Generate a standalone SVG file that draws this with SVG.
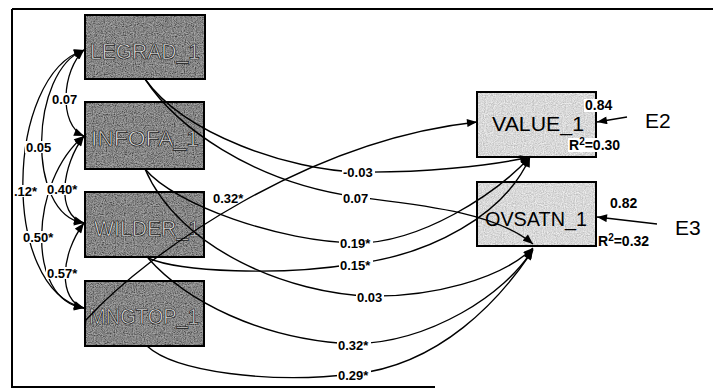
<svg xmlns="http://www.w3.org/2000/svg" width="713" height="389" viewBox="0 0 713 389">
<style>
.dk{fill:#555}
.lt{fill:#e6e6e6}
.bx{fill:none;stroke:#000;stroke-width:2}
.dt{font-family:"Liberation Sans",Arial,sans-serif;font-size:22px;fill:#e4e4e4;stroke:#111;stroke-width:0.7;text-anchor:middle}
.ltx{font-family:"Liberation Sans",Arial,sans-serif;font-size:21px;fill:#000;text-anchor:middle}
.c{fill:none;stroke:#000;stroke-width:1.4}
.cv{fill:none;stroke:#000;stroke-width:1.3}
.lb{font-family:"Liberation Sans",Arial,sans-serif;font-size:13px;font-weight:bold;fill:#000}
.rl{font-family:"Liberation Sans",Arial,sans-serif;font-size:14px;font-weight:bold;fill:#000}
.ev{font-family:"Liberation Sans",Arial,sans-serif;font-size:21px;fill:#000}
.bg{fill:#fff}
</style>
<defs>
<marker id="ah" viewBox="0 0 10 8" refX="10" refY="4" markerWidth="11" markerHeight="8" markerUnits="userSpaceOnUse" orient="auto-start-reverse"><path d="M0,0 L10,4 L0,8 z" fill="#000"/></marker>
<filter id="nz" x="0" y="0" width="100%" height="100%">
<feTurbulence type="fractalNoise" baseFrequency="0.9" numOctaves="2" seed="3" result="t"/>
<feColorMatrix in="t" type="saturate" values="0" result="g"/>
<feComponentTransfer in="g" result="g2"><feFuncR type="linear" slope="2.2" intercept="-0.6"/><feFuncG type="linear" slope="2.2" intercept="-0.6"/><feFuncB type="linear" slope="2.2" intercept="-0.6"/><feFuncA type="linear" slope="0" intercept="0.35"/></feComponentTransfer>
<feComposite in="g2" in2="SourceGraphic" operator="in" result="n"/>
<feMerge><feMergeNode in="SourceGraphic"/><feMergeNode in="n"/></feMerge>
</filter>
</defs>
<rect width="713" height="389" fill="#fff"/>
<g id="frame" stroke="#000" stroke-width="2" fill="none">
<path d="M12,9 H713 M12,9 V387 H435"/>
</g>
<g id="LEGRAD_1"><rect class="dk" filter="url(#nz)" x="85" y="15" width="120" height="64"/><rect class="bx" x="85" y="15" width="120" height="64"/><text class="dt" x="145" y="59" textLength="110" lengthAdjust="spacingAndGlyphs">LEGRAD_1</text></g>
<g id="INFOFA_1"><rect class="dk" filter="url(#nz)" x="85" y="102" width="119" height="67"/><rect class="bx" x="85" y="102" width="119" height="67"/><text class="dt" x="145" y="146" textLength="108" lengthAdjust="spacingAndGlyphs">INFOFA_1</text></g>
<g id="WILDER_1"><rect class="dk" filter="url(#nz)" x="85" y="192" width="119" height="65"/><rect class="bx" x="85" y="192" width="119" height="65"/><text class="dt" x="147" y="236" textLength="106" lengthAdjust="spacingAndGlyphs">WILDER_1</text></g>
<g id="MNGTOP_1"><rect class="dk" filter="url(#nz)" x="85" y="281" width="119" height="65"/><rect class="bx" x="85" y="281" width="119" height="65"/><text class="dt" x="144" y="324" textLength="110" lengthAdjust="spacingAndGlyphs">MNGTOP_1</text></g>
<g id="VALUE_1"><rect class="lt" filter="url(#nz)" x="477" y="92" width="119" height="65"/><rect class="bx" x="477" y="92" width="119" height="65"/><text class="ltx" x="538" y="131" textLength="92" lengthAdjust="spacingAndGlyphs">VALUE_1</text></g>
<g id="OVSATN_1"><rect class="lt" filter="url(#nz)" x="477" y="182" width="119" height="64"/><rect class="bx" x="477" y="182" width="119" height="64"/><text class="ltx" x="536" y="226" textLength="102" lengthAdjust="spacingAndGlyphs">OVSATN_1</text></g>
<g id="connectors">
<path class="c" marker-end="url(#ah)" d="M145,79 C185,135 290,170 358,172 C420,173 490,166 530,157"/>
<path class="c" marker-end="url(#ah)" d="M145,79 C175,125 250,182 357,197 C420,205 495,212 533,244"/>
<path class="c" marker-end="url(#ah)" d="M145,169 C175,205 280,242 357,243 C420,243 495,195 530,157"/>
<path class="c" marker-end="url(#ah)" d="M145,169 C180,250 290,294 371,296 C430,297 500,280 533,248"/>
<path class="c" marker-end="url(#ah)" d="M148,258 C180,272 280,276 354,264 C430,255 505,215 530,157"/>
<path class="c" marker-end="url(#ah)" d="M148,258 C185,300 260,340 354,344 C430,342 505,295 533,249"/>
<path class="c" marker-end="url(#ah)" d="M147,346 C175,372 270,384 354,374 C440,365 500,300 533,250"/>
<path class="c" marker-end="url(#ah)" d="M86,320 C150,250 310,140 477,122"/>
<path class="c" marker-end="url(#ah)" d="M627,117 L597,122"/>
<path class="c" marker-end="url(#ah)" d="M657,224 L597,217"/>
<path class="cv" marker-start="url(#ah)" marker-end="url(#ah)" d="M84,50 C62,70 58,125 84,136"/>
<path class="cv" marker-start="url(#ah)" marker-end="url(#ah)" d="M84,50 C30,70 25,215 84,223"/>
<path class="cv" marker-start="url(#ah)" marker-end="url(#ah)" d="M84,50 C5,75 0,290 84,308"/>
<path class="cv" marker-start="url(#ah)" marker-end="url(#ah)" d="M84,136 C62,165 55,215 84,223"/>
<path class="cv" marker-start="url(#ah)" marker-end="url(#ah)" d="M84,136 C30,180 25,300 84,308"/>
<path class="cv" marker-start="url(#ah)" marker-end="url(#ah)" d="M84,223 C60,255 58,300 84,308"/>
<rect class="bg" x="342" y="166" width="33" height="12"/><text class="lb" x="343" y="177">-0.03</text>
<rect class="bg" x="342" y="192" width="28" height="12"/><text class="lb" x="343" y="203">0.07</text>
<rect class="bg" x="339" y="237" width="34" height="12"/><text class="lb" x="340" y="248">0.19*</text>
<rect class="bg" x="339" y="259" width="34" height="12"/><text class="lb" x="340" y="270">0.15*</text>
<rect class="bg" x="356" y="291" width="28" height="12"/><text class="lb" x="357" y="302">0.03</text>
<rect class="bg" x="337" y="339" width="34" height="12"/><text class="lb" x="338" y="350">0.32*</text>
<rect class="bg" x="337" y="369" width="34" height="12"/><text class="lb" x="338" y="380">0.29*</text>
<text class="lb" x="213" y="203">0.32*</text>
<rect class="bg" x="51" y="93" width="28" height="12"/><text class="lb" x="52" y="104">0.07</text>
<rect class="bg" x="25" y="141" width="28" height="12"/><text class="lb" x="26" y="152">0.05</text>
<rect class="bg" x="14" y="185" width="24" height="12"/><text class="lb" x="14" y="196">.12*</text>
<rect class="bg" x="46" y="183" width="34" height="12"/><text class="lb" x="47" y="194">0.40*</text>
<rect class="bg" x="22" y="231" width="34" height="12"/><text class="lb" x="23" y="242">0.50*</text>
<rect class="bg" x="46" y="267" width="34" height="12"/><text class="lb" x="47" y="278">0.57*</text>
<rect class="bg" x="584" y="99" width="32" height="13"/><text class="rl" x="585" y="110">0.84</text>
<rect class="bg" x="568" y="138" width="58" height="14"/><text class="rl" x="569" y="150">R<tspan dy="-5" font-size="10">2</tspan><tspan dy="5">=0.30</tspan></text>
<text class="rl" x="610" y="208">0.82</text>
<rect class="bg" x="597" y="234" width="58" height="14"/><text class="rl" x="598" y="246">R<tspan dy="-5" font-size="10">2</tspan><tspan dy="5">=0.32</tspan></text>
<text class="ev" x="645" y="128">E2</text>
<text class="ev" x="675" y="235">E3</text>
</g>
</svg>
